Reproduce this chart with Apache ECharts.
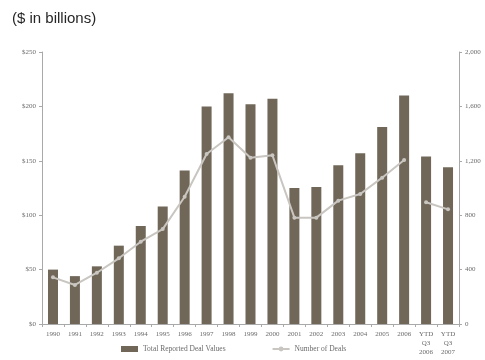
<!DOCTYPE html>
<html>
<head>
<meta charset="utf-8">
<script src="https://cdn.jsdelivr.net/npm/echarts@6/dist/echarts.min.js"></script>
<style>
  html, body { margin: 0; padding: 0; background: #fff; }
  #chart { width: 485px; height: 360px; }
</style>
</head>
<body>
<div id="chart"></div>
<script>
// Annual M&A activity: deal value (bars, $bn) and deal count (line)
const categories = ['1990','1991','1992','1993','1994','1995','1996','1997','1998','1999',
  '2000','2001','2002','2003','2004','2005','2006','YTD\nQ3\n2006','YTD\nQ3\n2007'];
const dealValues = [50, 44, 53, 72, 90, 108, 141, 200, 212, 202,
  207, 125, 126, 146, 157, 181, 210, 154, 144];
const dealCounts = [343, 287, 377, 483, 605, 698, 936, 1250, 1373, 1223,
  1240, 782, 782, 907, 956, 1076, 1206, null, null];
const ytdCounts = [null, null, null, null, null, null, null, null, null, null,
  null, null, null, null, null, null, null, 895, 843];
const leftTicks = ['$0', '$50', '$100', '$150', '$200', '$250'];

const serif = '"Liberation Serif", "DejaVu Serif", serif';
const axisGray = '#a9a9a9';
const labelGray = '#6b6b6b';
const barColor = '#706759';
const lineColor = '#c9c6c1';

const chart = echarts.init(document.getElementById('chart'), null, { renderer: 'canvas' });

const lineStyleCommon = {
  type: 'line',
  yAxisIndex: 1,
  symbol: 'circle',
  symbolSize: 4,
  itemStyle: { color: lineColor },
  lineStyle: { color: lineColor, width: 2 },
  connectNulls: false,
  z: 3
};

chart.setOption({
  animation: false,
  title: {
    text: '($ in billions)',
    left: 7,
    top: 6,
    textStyle: { fontFamily: 'Arial, "Liberation Sans", sans-serif', fontSize: 15, fontWeight: 'normal', color: '#262626' }
  },
  grid: { left: 42, right: 26, top: 52, bottom: 36 },
  legend: {
    bottom: 2,
    left: 116,
    itemGap: 46,
    itemWidth: 17,
    itemHeight: 6,
    textStyle: { fontFamily: serif, fontSize: 7.5, color: labelGray },
    data: [
      { name: 'Total Reported Deal Values', icon: 'rect' },
      { name: 'Number of Deals' }
    ]
  },
  xAxis: {
    type: 'category',
    data: categories,
    axisLine: { lineStyle: { color: axisGray, width: 1 } },
    axisTick: { show: true, alignWithLabel: false, length: 3, lineStyle: { color: axisGray } },
    axisLabel: { interval: 0, fontFamily: serif, fontSize: 7, color: labelGray, lineHeight: 9, margin: 6 }
  },
  yAxis: [
    {
      type: 'value',
      min: 0, max: 250, interval: 50,
      axisLine: { show: true, lineStyle: { color: axisGray } },
      axisTick: { show: true, length: 3, lineStyle: { color: axisGray } },
      splitLine: { show: false },
      axisLabel: {
        fontFamily: serif, fontSize: 7, color: labelGray, margin: 6,
        formatter: (v) => leftTicks[Math.round(v / 50)]
      }
    },
    {
      type: 'value',
      min: 0, max: 2000, interval: 400,
      position: 'right',
      axisLine: { show: true, lineStyle: { color: axisGray } },
      axisTick: { show: true, length: 3, lineStyle: { color: axisGray } },
      splitLine: { show: false },
      axisLabel: {
        fontFamily: serif, fontSize: 7, color: labelGray, margin: 6,
        formatter: (v) => v.toLocaleString('en-US')
      }
    }
  ],
  series: [
    {
      name: 'Total Reported Deal Values',
      type: 'bar',
      data: dealValues,
      barWidth: 10,
      itemStyle: { color: barColor },
      z: 2
    },
    Object.assign({ name: 'Number of Deals', data: dealCounts }, lineStyleCommon),
    Object.assign({ name: 'Number of Deals', data: ytdCounts }, lineStyleCommon)
  ]
});
</script>
</body>
</html>
